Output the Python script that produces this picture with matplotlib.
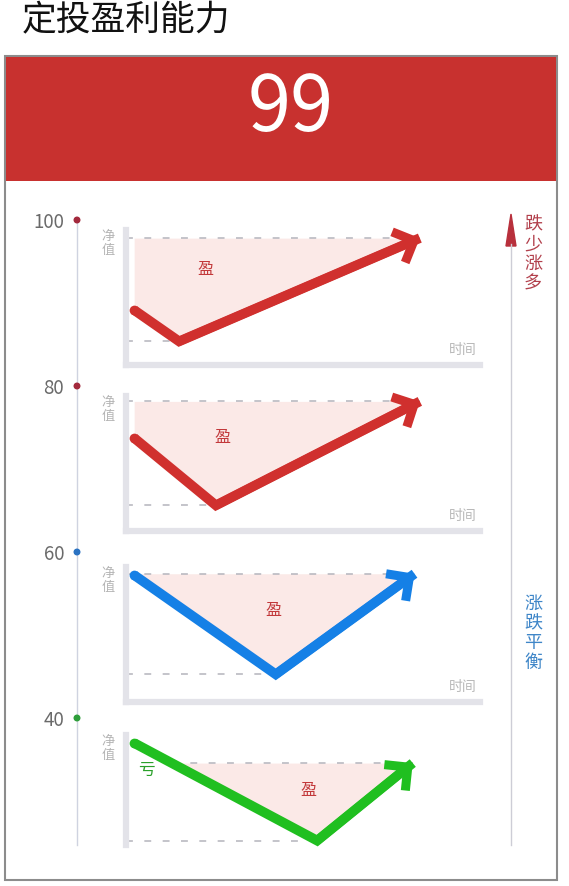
import numpy as np
import matplotlib.pyplot as plt
from matplotlib.patches import Rectangle

plt.rcParams['font.family'] = ['Noto Sans CJK SC', 'DejaVu Sans']

# header
title = '定投盈利能力'
score = 99

# left score scale
scale_ticks = [100, 80, 60, 40]
scale_colors = ['#a3293c', '#a3293c', '#2a72c2', '#2e9e3a']

# four example panels: time / net value (0-100 inside each panel)
panel_times = [[2.3, 15, 83], [2.3, 25.4, 83], [2.3, 42.3, 81.5], [2.3, 54, 81]]
panel_navs = [[40.7, 17.5, 94], [68.9, 19, 96], [94, 20.5, 95], [92.7, 4, 74.5]]
panel_colors = ['#d0302e', '#d0302e', '#1580e6', '#20bf20']
gain_pos = [(22.5, 70.4), (27.3, 68.9), (41.7, 68.1), (51.5, 50)]
loss_pos = [None, None, None, (3.5, 68)]
side_notes = ['跌少涨多', '涨跌平衡']
side_colors = ['#b2404c', '#3f86c8']

W, H = 569, 886


def fig_rect(x0, y0, x1, y1):
    # pixel box (y down) -> figure fraction
    return [x0 / W, 1 - y1 / H, (x1 - x0) / W, (y1 - y0) / H]


fig = plt.figure(figsize=(W / 100, H / 100), dpi=100, facecolor='white')

# base layer in pixel units
ax = fig.add_axes([0, 0, 1, 1])
ax.set_xlim(0, W)
ax.set_ylim(H, 0)
ax.axis('off')

ax.add_patch(Rectangle((5, 56), 552, 824, facecolor='white', edgecolor='#8c8c8c', lw=1.5))
ax.add_patch(Rectangle((5.8, 57), 550.4, 124, facecolor='#c8312f', edgecolor='none'))
ax.text(22, 21, title, fontsize=25, color='#111111', va='center', ha='left')
ax.text(291, 131, str(score), fontsize=56, color='white', va='baseline', ha='center')

# right side trend arrow + notes
ax.plot([511, 511], [244, 845], color='#cdcdd6', lw=1)
ax.fill([506, 516, 511], [246, 246, 214], color='#b8303c')
ax.text(533, 254, '\n'.join(side_notes[0]), ha='center', va='center',
        fontsize=13, color=side_colors[0], linespacing=1.12)
ax.text(533, 633, '\n'.join(side_notes[1]), ha='center', va='center',
        fontsize=13, color=side_colors[1], linespacing=1.12)

# score scale
sax = fig.add_axes(fig_rect(71, 220, 83, 718))
sax.set_xlim(-1, 1)
sax.set_ylim(40, 100)
sax.patch.set_alpha(0)
bottom_val = 40 - (845 - 718) / (718 - 220) * 60
sax.plot([0, 0], [bottom_val, 100], color='#cfd3e0', lw=1, clip_on=False)
sax.scatter([0] * len(scale_ticks), scale_ticks, c=scale_colors, s=16, zorder=3, clip_on=False)
sax.set_yticks(scale_ticks)
sax.set_yticklabels([str(v) for v in scale_ticks])
sax.tick_params(axis='y', length=0, pad=5, labelsize=13.5, labelcolor='#6a6a6a')
sax.set_xticks([])
for s in sax.spines.values():
    s.set_visible(False)

# panels
tops = [230, 396, 567, 735]
bottoms = [365, 531, 702, 845]
for i in range(4):
    pax = fig.add_axes(fig_rect(126, tops[i], 480, bottoms[i]))
    pax.set_xlim(0, 100)
    pax.set_ylim(0, 100)
    pax.patch.set_alpha(0)
    pax.set_xticks([])
    pax.set_yticks([])
    pax.spines['top'].set_visible(False)
    pax.spines['right'].set_visible(False)
    pax.spines['left'].set_color('#e3e3e9')
    pax.spines['left'].set_linewidth(4.5)
    if i < 3:
        pax.spines['bottom'].set_color('#e3e3e9')
        pax.spines['bottom'].set_linewidth(4.5)
    else:
        pax.spines['bottom'].set_visible(False)

    t = np.array(panel_times[i])
    v = np.array(panel_navs[i])
    c = panel_colors[i]
    top_v = v[-1]

    pax.fill_between(t, v, top_v, where=v <= top_v, interpolate=True,
                     color='#fbe9e7', lw=0, zorder=1)

    if v[0] <= top_v:
        t_start = 0
    else:
        t_start = np.interp(top_v, [v[1], v[0]], [t[1], t[0]])
    pax.plot([t_start, t[-1]], [top_v, top_v], color='#b4b4bc', lw=1.1,
             ls=(0, (4.5, 7.5)), zorder=2)
    pax.plot([0, t[1]], [v[1], v[1]], color='#b4b4bc', lw=1.1,
             ls=(0, (4.5, 7.5)), zorder=2)

    pax.plot(t, v, color=c, lw=7, solid_capstyle='butt', solid_joinstyle='miter',
             zorder=4, clip_on=False)
    pax.plot(t[:1], v[:1], 'o', color=c, ms=7, mew=0, zorder=4, clip_on=False)
    pax.annotate('', xy=(t[2], v[2]), xytext=(t[1], v[1]),
                 arrowprops=dict(arrowstyle='->,head_length=0.6,head_width=0.6', lw=6.5,
                                 color=c, shrinkA=0, shrinkB=0, mutation_scale=20,
                                 joinstyle='miter', capstyle='butt'),
                 zorder=4, annotation_clip=False)

    pax.text(gain_pos[i][0], gain_pos[i][1], '盈', color='#c2383a', fontsize=11.5,
             ha='center', va='center', zorder=5)
    if loss_pos[i] is not None:
        pax.text(loss_pos[i][0], loss_pos[i][1], '亏', color='#2aa02a', fontsize=12,
                 ha='left', va='center', zorder=5)
    pax.text(-5.1, 100, '净\n值', ha='center', va='top', fontsize=9.5, color='#b4b4b4',
             linespacing=1.1, clip_on=False)
    if i < 3:
        pax.text(95, 11, '时间', ha='center', va='center', fontsize=10, color='#b8b8b8')

fig.savefig('out.png', dpi=100)
